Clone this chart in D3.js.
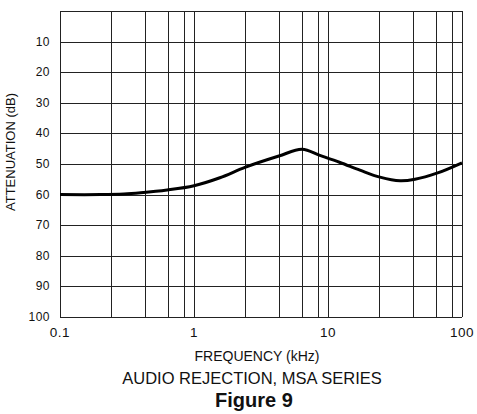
<!DOCTYPE html>
<html>
<head>
<meta charset="utf-8">
<script src="https://cdn.jsdelivr.net/npm/d3@7"></script>
<style>
  body { margin: 0; background: #fff; }
  text { font-family: "Liberation Sans", Arial, sans-serif; fill: #111; }
</style>
</head>
<body>
<script>
// curve
const freq  = [0.1, 0.2, 0.3, 0.4, 0.63, 1.0, 1.56, 2.4, 4.3, 6.4, 8.7, 12.3, 17.3, 24.4, 34.5, 44.6, 65, 100]
const atten = [60, 60, 59.8, 59.4, 58.5, 57.1, 54.5, 51.1, 47.4, 45.2, 47.2, 49.5, 52.0, 54.3, 55.5, 55.0, 53.0, 49.6]

const xTicks = [0.1, 1, 10, 100]
const xTickLabels = ["0.1", "1", "10", "100"]
const yTicks = [10, 20, 30, 40, 50, 60, 70, 80, 90, 100]
// minor grid lines inside each decade (as printed)
const minorGrid = [2.4, 4.3, 6.4, 8.4]

const w = 477
const h = 414
const margin = {top: 11, right: 15, bottom: 97, left: 60}

const x = d3.scaleLog()
  .domain([0.1, 100])
  .range([margin.left, w - margin.right])

const y = d3.scaleLinear()
  .domain([0, 100])
  .range([margin.top, h - margin.bottom])

const svg = d3.select("body")
  .append("svg")
  .attr("width", w)
  .attr("height", h)

// grid: vertical lines
const vLines = []
xTicks.slice(0, -1).forEach(d => minorGrid.forEach(m => vLines.push(d * m)))
xTicks.forEach(d => vLines.push(d))

svg.append("g")
  .selectAll("line")
  .data(vLines)
  .enter()
  .append("line")
  .attr("x1", d => Math.round(x(d)) + 0.5)
  .attr("x2", d => Math.round(x(d)) + 0.5)
  .attr("y1", y(0))
  .attr("y2", y(100))
  .attr("stroke", "#222")
  .attr("stroke-width", 1)

// grid: horizontal lines (0 is the top frame)
svg.append("g")
  .selectAll("line")
  .data([0].concat(yTicks))
  .enter()
  .append("line")
  .attr("x1", x(0.1))
  .attr("x2", x(100))
  .attr("y1", d => Math.round(y(d)) + 0.5)
  .attr("y2", d => Math.round(y(d)) + 0.5)
  .attr("stroke", "#222")
  .attr("stroke-width", 1)

// y tick labels
svg.append("g")
  .selectAll("text")
  .data(yTicks)
  .enter()
  .append("text")
  .attr("x", margin.left - 10)
  .attr("y", d => y(d) + 4)
  .attr("text-anchor", "end")
  .attr("font-size", "12px")
  .attr("letter-spacing", "0.5px")
  .text(d => d)

// x tick labels
svg.append("g")
  .selectAll("text")
  .data(xTicks)
  .enter()
  .append("text")
  .attr("x", d => x(d))
  .attr("y", y(100) + 20)
  .attr("text-anchor", "middle")
  .attr("font-size", "13.5px")
  .attr("letter-spacing", "0.5px")
  .text((d, i) => xTickLabels[i])

// the curve
const line = d3.line()
  .x((d, i) => x(freq[i]))
  .y(d => y(d))
  .curve(d3.curveCatmullRom.alpha(0.5))

svg.append("path")
  .datum(atten)
  .attr("d", line)
  .attr("fill", "none")
  .attr("stroke", "#000")
  .attr("stroke-width", 3)

// axis titles
svg.append("text")
  .attr("transform", "translate(15," + 152 + ") rotate(-90)")
  .attr("text-anchor", "middle")
  .attr("font-size", "13px")
  .text("ATTENUATION (dB)")

svg.append("text")
  .attr("x", 257)
  .attr("y", 361)
  .attr("text-anchor", "middle")
  .attr("font-size", "14px")
  .text("FREQUENCY (kHz)")

svg.append("text")
  .attr("x", 252)
  .attr("y", 384)
  .attr("text-anchor", "middle")
  .attr("font-size", "16.5px")
  .text("AUDIO REJECTION, MSA SERIES")

svg.append("text")
  .attr("x", 254)
  .attr("y", 407)
  .attr("text-anchor", "middle")
  .attr("font-size", "20px")
  .attr("font-weight", "bold")
  .text("Figure 9")
</script>
</body>
</html>
